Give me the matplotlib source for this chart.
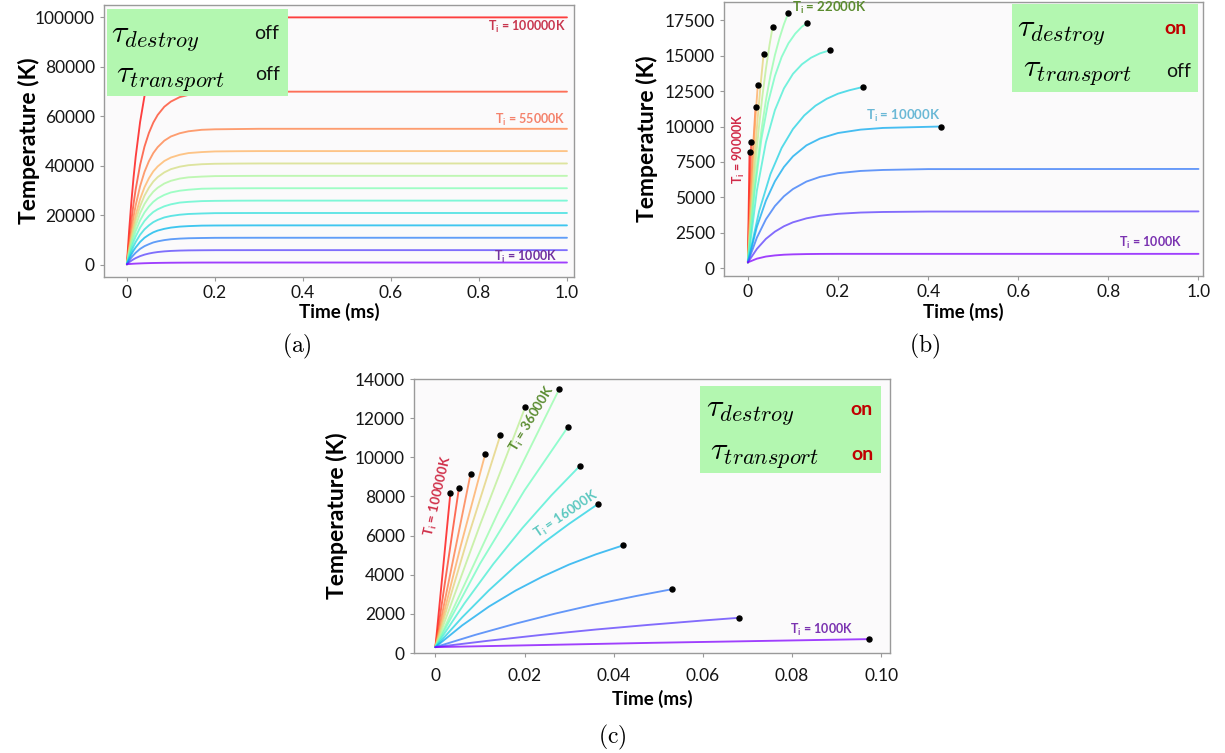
import numpy as np
import matplotlib
matplotlib.use('Agg')
import matplotlib.pyplot as plt
from matplotlib.patches import Rectangle

plt.rcParams['font.family'] = ['Lato', 'DejaVu Sans']
plt.rcParams['mathtext.fontset'] = 'custom'
plt.rcParams['mathtext.rm'] = 'Lato'
plt.rcParams['mathtext.bf'] = 'Lato:bold'
plt.rcParams['mathtext.it'] = 'Lato:italic'

# ---- panel (a): tau_destroy off, tau_transport off (shared time grid, ms)
a_time = [0, 0.005, 0.01, 0.015, 0.02, 0.03, 0.04, 0.05, 0.06, 0.07, 0.085,
          0.1, 0.12, 0.14, 0.17, 0.2, 0.25, 0.3, 1.0]
a_temp = [
    [300, 13600, 25100, 35100, 43700, 57700, 68200, 76100, 82100, 86500, 91200,
     94300, 96800, 98200, 99200, 99700, 99900, 100000, 100000],
    [300, 9600, 17700, 24600, 30600, 40400, 47800, 53300, 57500, 60600, 63900,
     66000, 67800, 68700, 69400, 69800, 69900, 70000, 70000],
    [300, 7600, 13900, 19400, 24100, 31800, 37600, 41900, 45200, 47600, 50200,
     51900, 53200, 54000, 54600, 54800, 54900, 55000, 55000],
    [300, 6400, 11700, 16200, 20200, 26600, 31400, 35000, 37800, 39800, 42000,
     43400, 44500, 45200, 45600, 45860, 45950, 46000, 46000],
    [300, 5700, 10400, 14500, 18000, 23700, 28000, 31200, 33700, 35500, 37400,
     38700, 39700, 40300, 40700, 40880, 40960, 41000, 41000],
    [300, 5050, 9200, 12800, 15800, 20900, 24600, 27400, 29600, 31200, 32900,
     34000, 34900, 35400, 35700, 35900, 35960, 36000, 36000],
    [300, 4400, 7900, 11000, 13700, 18000, 21200, 23600, 25500, 26900, 28300,
     29300, 30000, 30400, 30800, 30900, 30970, 31000, 31000],
    [300, 3700, 6700, 9300, 11500, 15100, 17800, 19800, 21400, 22500, 23700,
     24500, 25200, 25500, 25800, 25900, 25970, 26000, 26000],
    [300, 3050, 5450, 7500, 9300, 12200, 14400, 16000, 17300, 18200, 19200,
     19800, 20300, 20600, 20800, 20940, 20980, 21000, 21000],
    [300, 2400, 4200, 5800, 7100, 9300, 11000, 12200, 13200, 13900, 14600,
     15100, 15500, 15700, 15900, 15950, 15980, 16000, 16000],
    [300, 1700, 2960, 4000, 4950, 6500, 7600, 8400, 9100, 9550, 10050,
     10400, 10650, 10800, 10900, 10970, 10990, 11000, 11000],
    [300, 1060, 1720, 2290, 2780, 3580, 4180, 4630, 4970, 5230, 5500,
     5680, 5820, 5900, 5950, 5980, 5990, 6000, 6000],
    [300, 380, 450, 510, 560, 640, 710, 760, 810, 840, 880,
     910, 940, 960, 980, 990, 995, 1000, 1000],
]

# ---- panel (b): tau_destroy on, tau_transport off
b_flat_time = [0, 0.02, 0.04, 0.06, 0.08, 0.1, 0.13, 0.16, 0.2, 0.25, 0.3, 0.4, 1.0]
b_time = [
    [0, 0.0037],
    [0, 0.0037, 0.0074],
    [0, 0.0057, 0.0113, 0.017],
    [0, 0.0055, 0.011, 0.0165, 0.022],
    [0, 0.007, 0.014, 0.021, 0.028, 0.035],
    [0, 0.008, 0.016, 0.024, 0.032, 0.04, 0.048, 0.055],
    [0, 0.01, 0.02, 0.03, 0.04, 0.05, 0.06, 0.07, 0.08, 0.09],
    [0, 0.015, 0.03, 0.045, 0.06, 0.075, 0.09, 0.105, 0.12, 0.131],
    [0, 0.02, 0.04, 0.06, 0.08, 0.1, 0.12, 0.14, 0.16, 0.183],
    [0, 0.025, 0.05, 0.075, 0.1, 0.125, 0.15, 0.175, 0.2, 0.225, 0.256],
    [0, 0.02, 0.04, 0.06, 0.08, 0.1, 0.13, 0.16, 0.2, 0.25, 0.3, 0.428],
    b_flat_time,
    b_flat_time,
    b_flat_time,
]
b_temp = [
    [400, 8200],
    [400, 4900, 8900],
    [400, 4800, 8400, 11400],
    [400, 4200, 7600, 10450, 12950],
    [400, 4130, 7420, 10320, 12880, 15150],
    [400, 4010, 7130, 9800, 12100, 14070, 15760, 17050],
    [400, 4120, 7180, 9730, 11850, 13600, 15050, 16230, 17230, 18050],
    [400, 5470, 9120, 11710, 13570, 14920, 15880, 16560, 17060, 17300],
    [400, 5480, 8890, 11160, 12690, 13720, 14400, 14860, 15170, 15400],
    [400, 4020, 6630, 8490, 9820, 10780, 11470, 11960, 12320, 12560, 12800],
    [400, 2910, 4760, 6130, 7140, 7890, 8670, 9150, 9540, 9780, 9900, 10000],
    [400, 2150, 3440, 4380, 5070, 5580, 6110, 6440, 6700, 6860, 6930, 6990, 7000],
    [400, 1350, 2060, 2570, 2950, 3230, 3510, 3690, 3830, 3920, 3960, 3990, 4000],
    [400, 660, 810, 890, 940, 965, 985, 995, 1000, 1000, 1000, 1000, 1000],
]
b_destroyed = 11

# ---- panel (c): tau_destroy on, tau_transport on
c_time = [
    [0, 0.00337],
    [0, 0.0053],
    [0, 0.0079],
    [0, 0.0056, 0.0112],
    [0, 0.0073, 0.0146],
    [0, 0.0101, 0.0202],
    [0, 0.0139, 0.0278],
    [0, 0.01, 0.02, 0.0298],
    [0, 0.0065, 0.013, 0.0195, 0.026, 0.0325],
    [0, 0.006, 0.012, 0.018, 0.024, 0.03, 0.0364],
    [0, 0.006, 0.012, 0.018, 0.024, 0.03, 0.036, 0.0421],
    [0, 0.009, 0.018, 0.027, 0.036, 0.045, 0.0531],
    [0, 0.012, 0.024, 0.036, 0.048, 0.06, 0.0682],
    [0, 0.0487, 0.0974],
]
c_temp = [
    [300, 8190],
    [300, 8450],
    [300, 9160],
    [300, 5400, 10180],
    [300, 5900, 11150],
    [300, 6600, 12590],
    [300, 7100, 13490],
    [300, 4560, 8310, 11570],
    [300, 2530, 4550, 6380, 8050, 9580],
    [300, 1820, 3200, 4450, 5590, 6600, 7600],
    [300, 1410, 2370, 3190, 3900, 4520, 5040, 5500],
    [300, 930, 1500, 2020, 2490, 2910, 3260],
    [300, 630, 930, 1200, 1440, 1660, 1800],
    [300, 520, 710],
]

W, H = 1225, 753
fig = plt.figure(figsize=(W / 100, H / 100), dpi=100)


def px_axes(l, t, r, b):
    return fig.add_axes([l / W, 1 - b / H, (r - l) / W, (b - t) / H])


def draw_curves(ax, times, temps, n_dots):
    n = len(temps)
    cols = plt.cm.rainbow(np.linspace(1, 0, n))
    for i in range(n):
        ax.plot(times[i], temps[i], color=cols[i], lw=1.35, alpha=0.75,
                solid_capstyle='round', solid_joinstyle='round', zorder=2)
        if i < n_dots:
            ax.plot(times[i][-1], temps[i][-1], 'o', color='black', ms=3.6, zorder=5)


def style(ax, xlim, ylim, xticks, xlabels, yticks, ylab_x, xlab_y, xpad=3):
    ax.set_facecolor('#fbfafb')
    for s in ax.spines.values():
        s.set_color('#9a9a9a')
        s.set_linewidth(1.0)
    ax.set_xlim(*xlim)
    ax.set_ylim(*ylim)
    ax.set_xticks(xticks)
    ax.set_xticklabels(xlabels)
    ax.set_yticks(yticks)
    ax.set_yticklabels([str(v) for v in yticks])
    ax.tick_params(colors='#9a9a9a', labelcolor='#151515', labelsize=12.5,
                   length=3, width=0.8)
    ax.tick_params(axis='x', pad=xpad)
    ax.set_ylabel('Temperature (K)', fontsize=16.5, fontweight='bold')
    ax.yaxis.set_label_coords(ylab_x, 0.5)
    ax.set_xlabel('Time (ms)', fontsize=13.5, fontweight='bold')
    ax.xaxis.set_label_coords(0.5, xlab_y)


def switch_box(ax, x0, x1, y0, y1, rows):
    ax.add_patch(Rectangle((x0, y0), x1 - x0, y1 - y0, transform=ax.transAxes,
                           facecolor='#b3f7b0', edgecolor='none', zorder=6))
    for tx, ty, sx, sy, name, state in rows:
        ax.text(tx, ty, r'$\tau_{%s}$' % name, transform=ax.transAxes,
                math_fontfamily='cm', fontsize=23, ha='left', va='center', zorder=7)
        if state == 'on':
            ax.text(sx, sy, 'on', transform=ax.transAxes, fontsize=14,
                    fontweight='bold', color='#c00000', ha='center', va='center', zorder=7)
        else:
            ax.text(sx, sy, 'off', transform=ax.transAxes, fontsize=14,
                    color='#111111', ha='center', va='center', zorder=7)


def label(ax, x, y, s, color, ha='center', rot=0, size=8.5):
    ax.text(x, y, r'T$_{\mathbf{i}}$ = ' + s, color=color, fontsize=size,
            fontweight='bold', ha=ha, va='center', rotation=rot,
            rotation_mode='anchor', zorder=4)


# (a)
ax_a = px_axes(104, 5, 574, 277)
draw_curves(ax_a, [a_time] * len(a_temp), a_temp, 0)
style(ax_a, (-0.052, 1.016), (-4850, 105000), [0, 0.2, 0.4, 0.6, 0.8, 1.0],
      ['0', '0.2', '0.4', '0.6', '0.8', '1.0'],
      [0, 20000, 40000, 60000, 80000, 100000], -0.136, -0.095)
switch_box(ax_a, 0.0064, 0.391, 0.665, 0.985,
           [(0.015, 0.875, 0.345, 0.897, 'destroy', 'off'),
            (0.026, 0.728, 0.349, 0.743, 'transport', 'off')])
label(ax_a, 0.997, 96200, '100000K', '#c8364e', ha='right', size=9)
label(ax_a, 0.997, 58600, '55000K', '#f4826c', ha='right', size=9)
label(ax_a, 0.977, 3300, '1000K', '#7030a0', ha='right', size=9)

# (b)
ax_b = px_axes(724, 2, 1203, 276)
draw_curves(ax_b, b_time, b_temp, b_destroyed)
style(ax_b, (-0.053, 1.01), (-565, 18800), [0, 0.2, 0.4, 0.6, 0.8, 1.0],
      ['0', '0.2', '0.4', '0.6', '0.8', '1.0'],
      [0, 2500, 5000, 7500, 10000, 12500, 15000, 17500], -0.138, -0.098)
switch_box(ax_b, 0.601, 0.990, 0.672, 0.993,
           [(0.612, 0.887, 0.942, 0.905, 'destroy', 'on'),
            (0.624, 0.741, 0.948, 0.745, 'transport', 'off')])
label(ax_b, 0.097, 18360, '22000K', '#5b8c2f', ha='left', size=9.5)
label(ax_b, 0.263, 10730, '10000K', '#6ab8d6', ha='left', size=9.5)
label(ax_b, 0.963, 1745, '1000K', '#7a32b0', ha='right', size=9)
label(ax_b, -0.0207, 8450, '90000K', '#d02a48', rot=90, size=9)

# (c)
ax_c = px_axes(414, 379, 890, 653)
draw_curves(ax_c, c_time, c_temp, len(c_temp))
style(ax_c, (-0.0048, 0.102), (0, 14000), [0, 0.02, 0.04, 0.06, 0.08, 0.10],
      ['0', '0.02', '0.04', '0.06', '0.08', '0.10'],
      [0, 2000, 4000, 6000, 8000, 10000, 12000, 14000], -0.139, -0.135, xpad=8)
switch_box(ax_c, 0.601, 0.981, 0.657, 0.974,
           [(0.614, 0.876, 0.941, 0.887, 'destroy', 'on'),
            (0.622, 0.719, 0.943, 0.726, 'transport', 'on')])
label(ax_c, 0.0006, 8015, '100000K', '#d0304a', rot=77, size=9.5)
label(ax_c, 0.0217, 11985, '36000K', '#5a8c30', rot=59, size=9.5)
label(ax_c, 0.0294, 7079, '16000K', '#5cc8c0', rot=34, size=9.5)
label(ax_c, 0.0867, 1186, '1000K', '#7a32b0', size=9)

# sub-figure captions
for x, y, s in [(297, 346, '(a)'), (925, 346, '(b)'), (612, 737, '(c)')]:
    fig.text(x / W, 1 - y / H, r'$\mathrm{%s}$' % s, math_fontfamily='cm',
             fontsize=17, ha='center', va='center')

fig.savefig('out.png', dpi=100)
